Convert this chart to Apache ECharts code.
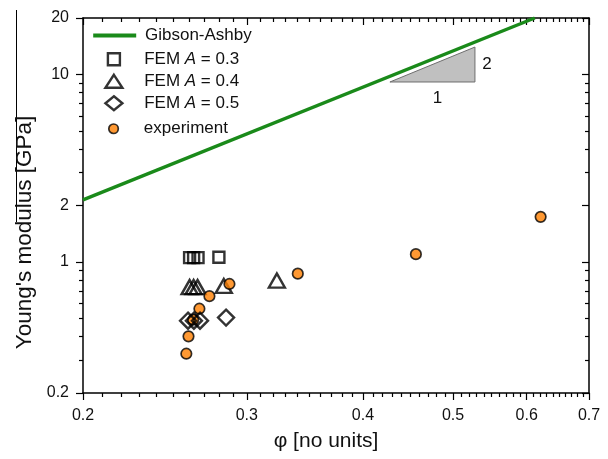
<!DOCTYPE html>
<html><head><meta charset="utf-8">
<script src="https://cdn.jsdelivr.net/npm/echarts@6/dist/echarts.min.js"></script>
<style>html,body{margin:0;padding:0;background:#fff}#c{width:608px;height:459px}</style>
</head><body><div id="c"></div>
<script>
// ---- data ----
const xTicks = [0.2, 0.3, 0.4, 0.5, 0.6, 0.7];
const xTickLabels = ['0.2', '0.3', '0.4', '0.5', '0.6', '0.7'];
const yTicks = [0.2, 1, 2, 10, 20];
const yTickLabels = ['0.2', '1', '2', '10', '20'];
const xMinor = [0.21,0.22,0.23,0.24,0.25,0.26,0.27,0.28,0.29,0.31,0.32,0.33,0.34,0.35,0.36,0.37,0.38,0.39,
  0.41,0.42,0.43,0.44,0.45,0.46,0.47,0.48,0.49,0.51,0.52,0.53,0.54,0.55,0.56,0.57,0.58,0.59,
  0.61,0.62,0.63,0.64,0.65,0.66,0.67,0.68,0.69];
const yMinor = [0.3,0.4,0.5,0.6,0.7,0.8,0.9,3,4,5,6,7,8,9];

const gibsonPhi = [0.2, 0.612];
const gibsonE   = [2.14, 20];

const femA03Phi = [0.2604, 0.2630, 0.2659, 0.280];
const femA03E   = [1.054, 1.054, 1.054, 1.06];
const femA04Phi = [0.2604, 0.2630, 0.2656, 0.2834, 0.3232];
const femA04E   = [0.734, 0.734, 0.734, 0.745, 0.796];
const femA05Phi = [0.2594, 0.2632, 0.2672, 0.285];
const femA05E   = [0.486, 0.486, 0.486, 0.505];
const expPhi = [0.2583, 0.2597, 0.2627, 0.2668, 0.2735, 0.2874, 0.3404, 0.456, 0.621];
const expE   = [0.324, 0.401, 0.492, 0.563, 0.657, 0.763, 0.866, 1.10, 1.74];

const slopeTri = { phi: [0.4276, 0.5278], E: [9.115, 14.0], run: '1', rise: '2' };

// ---- helpers ----
const lg = Math.log10;
const pts = (xs, ys) => xs.map((x, i) => [lg(x), lg(ys[i])]);
const FONT = '"Liberation Sans", Arial, sans-serif';
const fmt = (ticks, labels) => v => {
  const i = ticks.findIndex(t => Math.abs(lg(t) - v) < 1e-9);
  return i >= 0 ? labels[i] : '';
};
const xMin = lg(xTicks[0]), xMax = lg(xTicks[xTicks.length - 1]);
const yMin = lg(yTicks[0]), yMax = lg(yTicks[yTicks.length - 1]);

function ax(kind, gridIndex, position, ticks, len, inside, showLine, opts) {
  const o = {
    type: 'value', gridIndex, position,
    min: kind === 'x' ? xMin : yMin, max: kind === 'x' ? xMax : yMax,
    splitLine: { show: false },
    axisLine: { show: showLine, onZero: false, lineStyle: { color: '#000', width: 1.5 } },
    axisTick: { show: true, inside, length: len, customValues: ticks.map(lg), lineStyle: { color: '#000', width: 1.2 } },
    axisLabel: { show: false }
  };
  return Object.assign(o, opts || {});
}

const gridBox = { left: 83, right: 19, top: 18, bottom: 66 };
const chart = echarts.init(document.getElementById('c'), null, { renderer: 'canvas' });

const GREEN = '#1a8a1a';
const legendRich = {
  n: { fontSize: 17, fontFamily: FONT, color: '#111' },
  i: { fontSize: 17, fontFamily: FONT, color: '#111', fontStyle: 'italic' }
};
const legendFmt = name => {
  const m = name.match(/^FEM A = (.*)$/);
  return m ? '{n|FEM }{i|A}{n| = ' + m[1] + '}' : '{n|' + name + '}';
};
const hollow = { color: 'rgba(0,0,0,0)', borderColor: '#000', borderWidth: 2.4 };
const orange = { color: '#ff8000', borderColor: '#000', borderWidth: 1.7 };

// one legend row per entry so each icon keeps its own size; icon centre x = 112.7, text starts at 143
function legendRow(name, icon, w, h, cy, extra) {
  const left = 112.7 - w / 2;
  return {
    left, top: cy - h / 2, padding: 0, orient: 'vertical', itemWidth: w, itemHeight: h,
    selectedMode: false, formatter: legendFmt,
    textStyle: { rich: legendRich, padding: [0, 0, 0, 143 - (left + w + 5)] },
    data: [Object.assign({ name }, icon ? { icon } : {}, extra || {})]
  };
}

chart.setOption({
  animation: false,
  backgroundColor: '#fff',
  grid: [Object.assign({}, gridBox), Object.assign({}, gridBox)],
  xAxis: [
    ax('x', 0, 'bottom', xTicks, 7, false, true, {
      axisLabel: { show: true, customValues: xTicks.map(lg), formatter: fmt(xTicks, xTickLabels),
        fontSize: 16, fontFamily: FONT, color: '#111', margin: 15 },
      name: 'φ [no units]', nameLocation: 'middle', nameGap: 38,
      nameTextStyle: { fontSize: 21, fontFamily: FONT, color: '#111', padding: [0, 20, 0, 0] }
    }),
    ax('x', 0, 'top', xTicks, 7, true, true),
    ax('x', 1, 'bottom', xMinor, 4, false, false),
    ax('x', 1, 'top', xMinor, 4, true, false)
  ],
  yAxis: [
    ax('y', 0, 'left', yTicks, 7, false, true, {
      axisLabel: { show: true, customValues: yTicks.map(lg), formatter: fmt(yTicks, yTickLabels),
        fontSize: 16, fontFamily: FONT, color: '#111', margin: 14 },
      name: "Young's modulus [GPa]", nameLocation: 'middle', nameGap: 41,
      nameTextStyle: { fontSize: 22.5, fontFamily: FONT, color: '#111', padding: [0, 54, 0, 0] }
    }),
    ax('y', 0, 'right', yTicks, 7, true, true),
    ax('y', 1, 'left', yMinor, 4, false, false),
    ax('y', 1, 'right', yMinor, 4, true, false)
  ],
  legend: [
    legendRow('Gibson-Ashby', null, 43, 14, 34, { itemStyle: { opacity: 0 }, lineStyle: { color: GREEN, width: 4 } }),
    legendRow('FEM A = 0.3', 'rect', 12, 12, 56.7, { itemStyle: hollow }),
    legendRow('FEM A = 0.4', 'triangle', 17, 13, 79.3, { itemStyle: hollow }),
    legendRow('FEM A = 0.5', 'diamond', 17, 14, 101.7, { itemStyle: hollow }),
    legendRow('experiment', 'circle', 9.5, 9.5, 125, { itemStyle: orange })
  ],
  series: [
    { name: 'Gibson-Ashby', type: 'line', xAxisIndex: 0, yAxisIndex: 0, data: pts(gibsonPhi, gibsonE),
      symbol: 'none', lineStyle: { color: GREEN, width: 3.5 }, itemStyle: { color: GREEN }, clip: true, z: 2 },
    { name: 'FEM A = 0.3', type: 'scatter', xAxisIndex: 0, yAxisIndex: 0, data: pts(femA03Phi, femA03E),
      symbol: 'rect', symbolSize: 11, itemStyle: hollow, z: 3 },
    { name: 'FEM A = 0.4', type: 'scatter', xAxisIndex: 0, yAxisIndex: 0, data: pts(femA04Phi, femA04E),
      symbol: 'triangle', symbolSize: [16, 14], itemStyle: hollow, z: 3 },
    { name: 'experiment', type: 'scatter', xAxisIndex: 0, yAxisIndex: 0, data: pts(expPhi, expE),
      symbol: 'circle', symbolSize: 10.5, itemStyle: orange, z: 4 },
    { name: 'FEM A = 0.5', type: 'scatter', xAxisIndex: 0, yAxisIndex: 0, data: pts(femA05Phi, femA05E),
      symbol: 'diamond', symbolSize: [16, 16], itemStyle: hollow, z: 5 }
  ]
});

// slope triangle annotation, positioned through the axes
const P = (x, y) => chart.convertToPixel({ gridIndex: 0 }, [lg(x), lg(y)]);
const a = P(slopeTri.phi[0], slopeTri.E[0]);
const b = P(slopeTri.phi[1], slopeTri.E[0]);
const c = P(slopeTri.phi[1], slopeTri.E[1]);
chart.setOption({
  graphic: [
    { type: 'polygon', shape: { points: [a, b, c] }, style: { fill: '#c0c0c0', stroke: '#6e6e6e', lineWidth: 1 }, z: 1 },
    { type: 'text', x: c[0] + 12, y: (b[1] + c[1]) / 2, style: { text: slopeTri.rise, font: '17px ' + FONT, fill: '#111', align: 'center', verticalAlign: 'middle' } },
    { type: 'text', x: a[0] + 0.56 * (b[0] - a[0]), y: b[1] + 16, style: { text: slopeTri.run, font: '17px ' + FONT, fill: '#111', align: 'center', verticalAlign: 'middle' } },
    { type: 'line', shape: { x1: 16.5, y1: 10, x2: 16.5, y2: 222 }, style: { stroke: '#000', lineWidth: 1 } }
  ]
});
</script>
</body></html>
